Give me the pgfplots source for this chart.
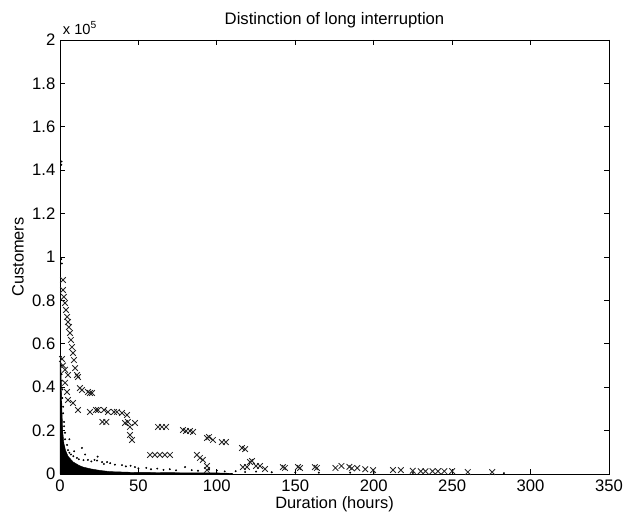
\documentclass[border=0pt]{standalone}
\usepackage{fontspec}
\setmainfont{Liberation Sans}
\usepackage{pgfplots}
\pgfplotsset{compat=1.18}
\begin{document}
\begin{tikzpicture}
\useasboundingbox (-45pt,-32.25pt) rectangle (422.25pt,355.5pt);
\begin{axis}[
  scale only axis,
  width=411.75pt, height=325.5pt,
  xmin=0, xmax=350, ymin=0, ymax=200000,
  xtick={0,50,...,350},
  ytick={0,20000,40000,60000,80000,100000,120000,140000,160000,180000,200000},
  yticklabels={0,0.2,0.4,0.6,0.8,1,1.2,1.4,1.6,1.8,2},
  scaled y ticks=false,
  tick align=inside,
  major tick length=4pt,
  tick style={black, line width=0.6pt},
  axis line style={black, line width=0.6pt},
  /pgf/number format/assume math mode=true,
  ticklabel style={font=\fontsize{12.5}{14}\selectfont},
  xticklabel style={yshift=-1pt},
  title={Distinction of long interruption},
  title style={font=\fontsize{12.5}{14}\selectfont, at={(axis description cs:0.5,1)}, anchor=center, yshift=9pt},
  xlabel={Duration (hours)},
  xlabel style={font=\fontsize{12.3}{14}\selectfont, at={(axis description cs:0.5,0)}, anchor=center, yshift=-22.5pt},
  ylabel={Customers},
  ylabel style={font=\fontsize{12.3}{14}\selectfont, at={(axis description cs:0,0.5)}, anchor=center, yshift=31.5pt},
  clip=false,
]
% dense black region near the origin
\addplot[draw=black, fill=black, line width=0.3pt] coordinates {
 (0,0) (0,52000) (0.5,52000) (0.9,40000) (1.3,28000) (1.8,19000) (2.5,14000) (3.5,11000)
 (5.1,8200) (8.3,5600) (12,4000) (14.7,3200) (20,2300) (26,1600) (31.9,1100) (45,800)
 (60,700) (80,550) (100,500) (110,300) (110,0)
} -- cycle;
% scattered small points
\addplot[only marks, mark=*, mark size=0.5pt, black] coordinates {
 (1,144000) (0.8,142500) (0.8,99000) (1.2,97000)
 (0.6,54000) (1,50000) (1,46000) (1.2,43000) (1.5,39000) (1.5,35000) (2,31000) (2,28000)
 (2.6,24000) (2.6,22000) (3.2,19000) (3.2,16000) (2.5,12400) (4.5,13400) (5.1,11000)
 (6,9800) (7,9000) (8.5,8200) (10.8,7400) (14,12000) (12,6800) (15,6400) (17.8,6500)
 (20,5800) (22,6500) (23.6,6200) (26.8,5500) (28,4600) (30,5500) (32,5000) (35,4300)
 (39.5,4100) (42,3500) (45,3800) (47.8,3200) (50,2600) (55,2800) (58,2200) (62,2500)
 (66,1900) (70,2200) (74,1700) (79.7,3200) (84,1800) (88,1500) (95,2000) (100,1600)
 (105,1200) (112,1300) (118,900) (125,1100) (135,800) (150,700) (165,600) (185,600)
 (200,500) (225,500) (283,400) (6,16000) (9,10500) (24,8000) (16,9000)
};
% long interruptions (x markers)
\addplot[only marks, mark=x, mark size=3pt, black!85, mark options={line width=0.65pt}] coordinates {
 (1.9,89400) (1.9,84800) (2.5,81600) (3.2,78800) (3.8,75600) (4.5,72400) (5.1,70000)
 (5.7,67700) (6.4,65000) (7,61800) (7.6,58500) (8.3,55800) (8.9,52500) (9.6,48800)
 (10.8,45600) (11.5,44700) (12.7,39600) (14,38700) (17.8,37800) (19.1,37300) (20.4,37300)
 (1.3,53000) (1.9,50000) (3.2,48000) (5.1,45600)
 (3.2,42000) (4.5,37800) (5.1,34100) (8.3,32700) (11.5,29500) (19.1,28600) (23,29500)
 (24.2,29500) (28,29500) (30.6,28600) (34.4,28600) (36.3,28600) (39.5,28100) (42.7,27200)
 (43.3,24000) (44.6,21700) (44.6,18000) (45.9,15700)
 (27,24000) (29.5,24000) (41.4,23500) (47.8,23500) (62.5,21700) (65,21700) (67.6,21700)
 (78.4,20300) (80.3,19800) (82.9,19800) (84.8,19400) (93.7,16600) (95,17000) (97.5,15700)
 (103.2,14700) (105.8,14700) (116,12000) (118,11500)
 (57.4,8800) (60.5,8800) (63.7,8800) (66.9,8800) (70.1,8800)
 (87.3,8800) (89.2,7400) (91.1,6500) (93.7,3700) (93.7,1800)
 (116.6,3200) (119.2,3200) (121.1,5500) (122.4,6000) (124.9,3700) (127.5,3700) (130.7,2300)
 (142.1,3200) (143.4,2800) (151.7,3200) (153,2800) (162.5,3200) (163.8,2800)
 (175.6,2800) (179.4,3700) (184.5,3300) (186,2600) (189.5,2800) (194.6,2200) (199.6,1800)
 (212.3,1800) (217.3,1800) (224.9,1500) (230,1300) (233,1300) (237.5,1300) (241,1300)
 (245,1300) (250,1300) (260,900) (275.5,900)
};
\end{axis}
\node[anchor=south west, font=\fontsize{11}{13}\selectfont, inner sep=0pt] at (2pt,4pt+325.5pt) {x 10\textsuperscript{5}};
\end{tikzpicture}
\end{document}
